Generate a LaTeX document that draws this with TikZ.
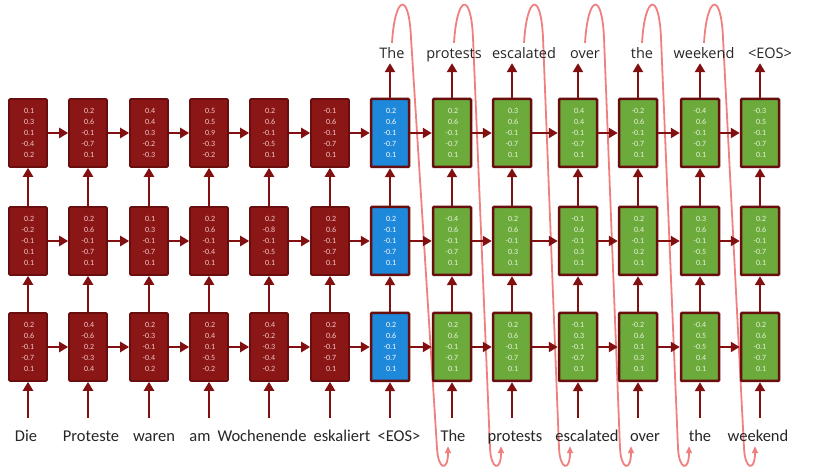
\documentclass[tikz,border=0pt]{standalone}
\usepackage{fontspec}
\setmainfont{Carlito}
\newfontfamily\outfont{Open Sans}
\usepackage{tikz}
\usetikzlibrary{arrows.meta,calc}
\pgfdeclarelayer{background}
\pgfsetlayers{background,main}

\definecolor{encred}{RGB}{139,22,22}
\definecolor{boxedge}{RGB}{105,14,14}
\definecolor{decblue}{RGB}{30,136,218}
\definecolor{decgreen}{RGB}{108,170,60}
\definecolor{linkred}{RGB}{130,16,16}
\definecolor{loopred}{RGB}{240,128,128}
\definecolor{numpink}{RGB}{242,200,200}
\definecolor{numlight}{RGB}{232,244,220}

\tikzset{
  cell/.style={draw=boxedge, minimum width=38pt, minimum height=68pt, inner sep=0pt,
    align=right, rounded corners=1pt, font=\fontsize{8}{10.8}\selectfont},
  enccell/.style={cell, fill=encred, line width=1.6pt, text=numpink},
  firstcell/.style={cell, fill=decblue, line width=2.5pt, text=white},
  deccell/.style={cell, fill=decgreen, line width=2.5pt, text=numlight},
  link/.style={draw=linkred, line width=2.4pt, -{Triangle[length=9pt,width=10pt]}},
  inword/.style={font=\fontsize{16.5}{18}\selectfont, text height=12pt, text depth=4pt,
    inner sep=0pt, anchor=base, text=black!85},
  outword/.style={font=\outfont\fontsize{14.5}{16}\selectfont, text height=11pt, text depth=4pt,
    inner sep=0pt, anchor=base, text=black!85},
  feedback/.style={draw=loopred, line width=1.8pt, -{Triangle[length=7pt,width=6pt]}}
}

\begin{document}
\begin{tikzpicture}[x=1pt,y=1pt]
  \useasboundingbox (0,0) rectangle (830,468);

  % top layer of cells
  \foreach \i/\x/\s/\v in {1/28/enccell/0.1\\0.3\\0.1\\-0.4\\0.2, 2/88/enccell/0.2\\0.6\\-0.1\\-0.7\\0.1,
      3/149/enccell/0.4\\0.4\\0.3\\-0.2\\-0.3, 4/209/enccell/0.5\\0.5\\0.9\\-0.3\\-0.2,
      5/269/enccell/0.2\\0.6\\-0.1\\-0.5\\0.1, 6/330/enccell/-0.1\\0.6\\-0.1\\-0.7\\0.1,
      7/390/firstcell/0.2\\0.6\\-0.1\\-0.7\\0.1, 8/452/deccell/0.2\\0.6\\-0.1\\-0.7\\0.1,
      9/512/deccell/0.3\\0.6\\-0.1\\-0.7\\0.1, 10/578/deccell/0.4\\0.4\\-0.1\\-0.7\\0.1,
      11/638/deccell/-0.2\\0.6\\-0.1\\-0.7\\0.1, 12/700/deccell/-0.4\\0.6\\-0.1\\-0.7\\0.1,
      13/760/deccell/-0.3\\0.5\\-0.1\\-0.7\\0.1}
    \node[\s] (t\i) at (\x,335) {\v};

  % middle layer
  \foreach \i/\x/\s/\v in {1/28/enccell/0.2\\-0.2\\-0.1\\0.1\\0.1, 2/88/enccell/0.2\\0.6\\-0.1\\-0.7\\0.1,
      3/149/enccell/0.1\\0.3\\-0.1\\-0.7\\0.1, 4/209/enccell/0.2\\0.6\\-0.1\\-0.4\\0.1,
      5/269/enccell/0.2\\-0.8\\-0.1\\-0.5\\0.1, 6/330/enccell/0.2\\0.6\\-0.1\\-0.7\\0.1,
      7/390/firstcell/0.2\\-0.1\\-0.1\\-0.7\\0.1, 8/452/deccell/-0.4\\0.6\\-0.1\\-0.7\\0.1,
      9/512/deccell/0.2\\0.6\\-0.1\\0.3\\0.1, 10/578/deccell/-0.1\\0.6\\-0.1\\0.3\\0.1,
      11/638/deccell/0.2\\0.4\\-0.1\\0.2\\0.1, 12/700/deccell/0.3\\0.6\\-0.1\\-0.5\\0.1,
      13/760/deccell/0.2\\0.6\\-0.1\\-0.7\\0.1}
    \node[\s] (m\i) at (\x,227) {\v};

  % bottom layer
  \foreach \i/\x/\s/\v in {1/28/enccell/0.2\\0.6\\-0.1\\-0.7\\0.1, 2/88/enccell/0.4\\-0.6\\0.2\\-0.3\\0.4,
      3/149/enccell/0.2\\-0.3\\-0.1\\-0.4\\0.2, 4/209/enccell/0.2\\0.4\\0.1\\-0.5\\-0.2,
      5/269/enccell/0.4\\-0.2\\-0.3\\-0.4\\-0.2, 6/330/enccell/0.2\\0.6\\-0.1\\-0.7\\0.1,
      7/390/firstcell/0.2\\0.6\\-0.1\\-0.7\\0.1, 8/452/deccell/0.2\\0.6\\-0.1\\-0.7\\0.1,
      9/512/deccell/0.2\\0.6\\-0.1\\-0.7\\0.1, 10/578/deccell/-0.1\\0.3\\-0.1\\-0.7\\0.1,
      11/638/deccell/-0.2\\0.6\\0.1\\0.3\\0.1, 12/700/deccell/-0.4\\0.5\\-0.5\\0.4\\0.1,
      13/760/deccell/0.2\\0.6\\-0.1\\-0.7\\0.1}
    \node[\s] (b\i) at (\x,121) {\v};

  % recurrent and stacked connections
  \foreach \r in {b,m,t}
    \foreach \i in {1,...,12} {
      \pgfmathtruncatemacro\j{\i+1}
      \draw[link] (\r\i) -- (\r\j);
    }
  \foreach \i in {1,...,13} {
    \draw[link] (b\i) -- (m\i);
    \draw[link] (m\i) -- (t\i);
  }

  % input words
  \foreach \i/\x/\w in {1/26/Die, 2/91/Proteste, 3/154/waren, 4/200/am, 5/262/Wochenende,
      6/342/eskaliert, 7/399/<EOS>, 8/453/The, 9/515/protests, 10/587/escalated,
      11/645/over, 12/700/the, 13/758/weekend} {
    \node[inword] (w\i) at (\x,26) {\w};
    \draw[link, shorten <=12pt] (w\i.north -| b\i.south) -- (b\i.south);
  }

  % output words
  \foreach \i/\x/\w in {1/392/The, 2/454/protests, 3/524/escalated, 4/585/over,
      5/642/the, 6/704/weekend, 7/770/<EOS>} {
    \pgfmathtruncatemacro\k{\i+6}
    \node[outword] (o\i) at (\x,409) {\w};
    \draw[link] (t\k.north) -- (t\k.north |- o\i.south);
  }

  % output fed back as next input
  \begin{pgfonlayer}{background}
    \fill[white] (0,0) rectangle (830,468);
    \foreach \k/\j/\ex in {1/8/448, 2/9/501, 3/10/570, 4/11/631, 5/12/689, 6/13/755}
      \draw[feedback] ($(o\k.north)+(0,5)$) .. controls +(3,48) and ($(o\k.north)+(17,57)$)
        .. ($(o\k.north)+(19,10)$) -- (\ex-11,20)
        .. controls (\ex-10,-2) and (\ex,-4) .. (\ex,0 |- w\j.south);
  \end{pgfonlayer}
\end{tikzpicture}
\end{document}
